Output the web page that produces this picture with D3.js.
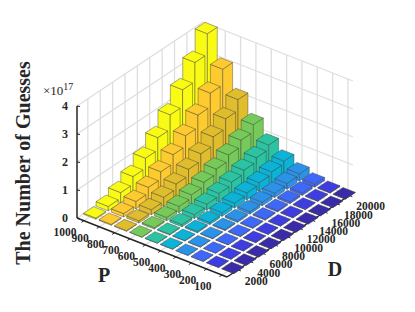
<!DOCTYPE html>
<html>
<head>
<meta charset="utf-8">
<script src="https://cdn.jsdelivr.net/npm/d3@7"></script>
<style>
  html, body { margin: 0; padding: 0; background: #fff; }
  svg { display: block; }
  text { font-family: "Liberation Serif", serif; fill: #262626; }
</style>
</head>
<body>
<svg id="chart" width="415" height="312"></svg>
<script>
var dLabels = [2000, 4000, 6000, 8000, 10000, 12000, 14000, 16000, 18000, 20000];
var pLabels = [100, 200, 300, 400, 500, 600, 700, 800, 900, 1000];
var zTicks = [0, 1, 2, 3, 4];

// colour of each P row
var rowColors = ["#3a2ba8", "#3e3de2", "#3d68f8", "#2a92e8", "#0bb3d6", "#2ac4a2", "#76ca5a", "#dfbd2c", "#fdca30", "#f9fb15"];

// guesses (x 1e17), one row per P, read off the bar tops
var p100 = [0.00, 0.00, 0.00, 0.00, 0.00, 0.00, 0.00, 0.00, 0.00, 0.01];
var p200 = [0.00, 0.00, 0.00, 0.01, 0.01, 0.01, 0.02, 0.02, 0.03, 0.03];
var p300 = [0.00, 0.00, 0.01, 0.02, 0.03, 0.04, 0.05, 0.07, 0.09, 0.11];
var p400 = [0.00, 0.01, 0.02, 0.04, 0.06, 0.09, 0.13, 0.16, 0.21, 0.26];
var p500 = [0.01, 0.02, 0.05, 0.08, 0.13, 0.18, 0.25, 0.32, 0.41, 0.50];
var p600 = [0.01, 0.03, 0.08, 0.14, 0.22, 0.31, 0.42, 0.55, 0.70, 0.86];
var p700 = [0.01, 0.05, 0.12, 0.22, 0.34, 0.49, 0.67, 0.88, 1.11, 1.37];
var p800 = [0.02, 0.08, 0.18, 0.33, 0.51, 0.74, 1.00, 1.31, 1.66, 2.05];
var p900 = [0.03, 0.12, 0.26, 0.47, 0.73, 1.05, 1.43, 1.87, 2.36, 2.92];
var p1000 = [0.04, 0.16, 0.36, 0.64, 1.00, 1.44, 1.96, 2.56, 3.24, 3.97];
var values = [p100, p200, p300, p400, p500, p600, p700, p800, p900, p1000];

var svg = d3.select("#chart");

// axis scales, each one gives a screen offset along its own floor edge
var frontCorner = [227, 277];
var dMin = 250, dMax = 20600, pMin = 67, pMax = 1045;
var dx = d3.scaleLinear().domain([dMin, dMax]).range([0, 126]);
var dy = d3.scaleLinear().domain([dMin, dMax]).range([0, -84]);
var px = d3.scaleLinear().domain([pMin, pMax]).range([0, -150]);
var py = d3.scaleLinear().domain([pMin, pMax]).range([0, -59]);
var zy = d3.scaleLinear().domain([0, 4]).range([0, -112]);

function project(d, p, z) {
  return [frontCorner[0] + dx(d) + px(p), frontCorner[1] + dy(d) + py(p) + zy(z)];
}

function addLine(g, a, b, color, width) {
  g.append("line")
    .attr("x1", a[0]).attr("y1", a[1])
    .attr("x2", b[0]).attr("y2", b[1])
    .attr("stroke", color).attr("stroke-width", width);
}

// grid on the floor and the two back walls
var grid = svg.append("g");
var gridColor = "#dedede";
dLabels.forEach(function(d) {
  addLine(grid, project(d, pMin, 0), project(d, pMax, 0), gridColor, 1.3);
  addLine(grid, project(d, pMax, 0), project(d, pMax, 4), gridColor, 1.3);
});
pLabels.forEach(function(p) {
  addLine(grid, project(dMin, p, 0), project(dMax, p, 0), gridColor, 1.3);
  addLine(grid, project(dMax, p, 0), project(dMax, p, 4), gridColor, 1.3);
});
zTicks.forEach(function(z) {
  addLine(grid, project(dMin, pMax, z), project(dMax, pMax, z), gridColor, 1.3);
  addLine(grid, project(dMax, pMax, z), project(dMax, pMin, z), gridColor, 1.3);
});

// axes
var axes = svg.append("g");
var axisColor = "#262626";
addLine(axes, project(dMin, pMax, 0), project(dMin, pMax, 4), axisColor, 1.5);
addLine(axes, project(dMin, pMax, 0), project(dMin, pMin, 0), axisColor, 1.5);
addLine(axes, project(dMin, pMin, 0), project(dMax, pMin, 0), axisColor, 1.5);

zTicks.forEach(function(z) {
  var a = project(dMin, pMax, z);
  addLine(axes, a, [a[0] + 3, a[1] + 0.5], axisColor, 1);
  axes.append("text")
    .attr("x", a[0] - 9).attr("y", a[1] + 4)
    .attr("text-anchor", "end")
    .attr("font-size", 12).attr("font-weight", "bold")
    .text(z);
});
pLabels.forEach(function(p) {
  var a = project(dMin, p, 0);
  var b = project(dMin + 800, p, 0);
  addLine(axes, a, [a[0] + (a[0] - b[0]) * 0.5, a[1] + (a[1] - b[1]) * 0.5], axisColor, 1);
  axes.append("text")
    .attr("x", a[0] - 19).attr("y", a[1] + 15)
    .attr("text-anchor", "middle")
    .attr("font-size", 11.5).attr("font-weight", "bold")
    .text(p);
});
dLabels.forEach(function(d) {
  var a = project(d, pMin, 0);
  var b = project(d, pMin + 40, 0);
  addLine(axes, a, [a[0] + (a[0] - b[0]) * 0.5, a[1] + (a[1] - b[1]) * 0.5], axisColor, 1);
  axes.append("text")
    .attr("x", a[0] + 7).attr("y", a[1] + 15)
    .attr("text-anchor", "start")
    .attr("font-size", 11.5).attr("font-weight", "bold")
    .text(d);
});

// bars, far ones first so the near ones cover them
var bars = svg.append("g");
var halfD = 800, halfP = 40;
for (var j = pLabels.length - 1; j >= 0; j--) {
  for (var i = dLabels.length - 1; i >= 0; i--) {
    var d = dLabels[i], p = pLabels[j], v = values[j][i];
    var color = rowColors[j];
    var d0 = d - halfD, d1 = d + halfD, p0 = p - halfP, p1 = p + halfP;
    var faces = [
      [[d0, p0, 0], [d0, p1, 0], [d0, p1, v], [d0, p0, v]],
      [[d0, p0, 0], [d1, p0, 0], [d1, p0, v], [d0, p0, v]],
      [[d0, p0, v], [d1, p0, v], [d1, p1, v], [d0, p1, v]]
    ];
    faces.forEach(function(face) {
      bars.append("polygon")
        .attr("points", face.map(function(c) { return project(c[0], c[1], c[2]).join(","); }).join(" "))
        .attr("fill", color)
        .attr("stroke", "#3a3a3a")
        .attr("stroke-opacity", 0.7)
        .attr("stroke-width", 0.6)
        .attr("stroke-linejoin", "round");
    });
  }
}

// titles
svg.append("text")
  .attr("transform", "translate(30,163) rotate(-90)")
  .attr("text-anchor", "middle")
  .attr("font-size", 20).attr("font-weight", "bold")
  .text("The Number of Guesses");
svg.append("text").attr("x", 104).attr("y", 282)
  .attr("text-anchor", "middle").attr("font-size", 20).attr("font-weight", "bold").text("P");
svg.append("text").attr("x", 335).attr("y", 276)
  .attr("text-anchor", "middle").attr("font-size", 20).attr("font-weight", "bold").text("D");

var mult = svg.append("text").attr("x", 43).attr("y", 95).attr("font-size", 13);
mult.append("tspan").text("\u00d710");
mult.append("tspan").attr("dy", -5).attr("font-size", 10).text("17");
</script>
</body>
</html>
